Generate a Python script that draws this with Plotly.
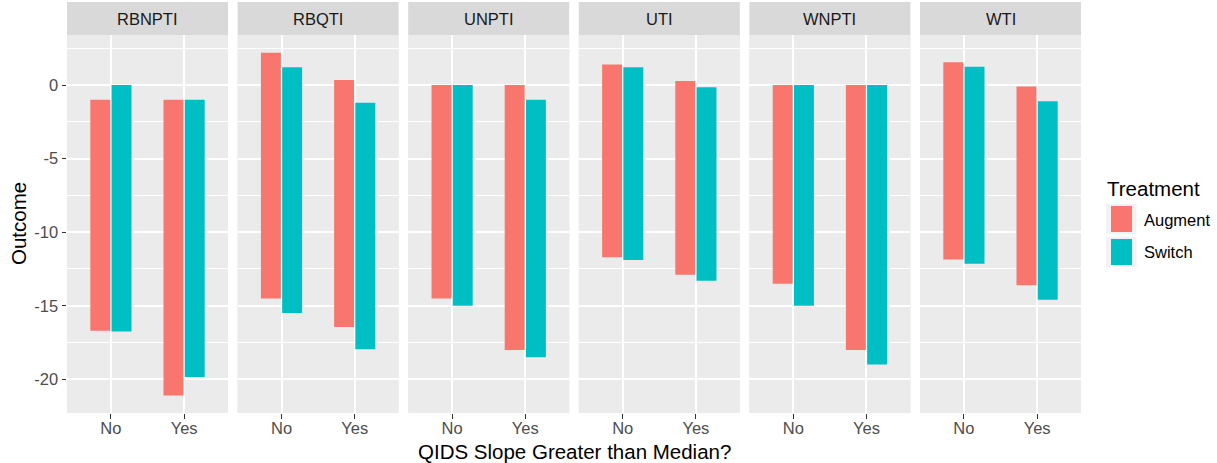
import plotly.graph_objects as go

# ---------------- data ----------------
panels = ["RBNPTI", "RBQTI", "UNPTI", "UTI", "WNPTI", "WTI"]
slope_groups = ["No", "Yes"]
treatments = ["Augment", "Switch"]

# per panel: [No, Yes]
augment_top = [[-1.0, -1.0], [2.2, 0.35], [0.0, 0.0], [1.4, 0.27], [0.0, 0.0], [1.55, -0.1]]
augment_bottom = [[-16.7, -21.1], [-14.5, -16.45], [-14.5, -18.0], [-11.7, -12.9], [-13.5, -18.0], [-11.85, -13.6]]
switch_top = [[0.0, -1.0], [1.2, -1.2], [0.0, -1.0], [1.2, -0.15], [0.0, 0.0], [1.25, -1.1]]
switch_bottom = [[-16.75, -19.85], [-15.5, -17.95], [-15.0, -18.5], [-11.9, -13.3], [-15.0, -19.0], [-12.15, -14.6]]

y_ticks = [-20, -15, -10, -5, 0]
y_tick_labels = ["-20", "-15", "-10", "-5", "0"]

colors = {"Augment": "#F8766D", "Switch": "#00BFC4"}

# ---------------- layout geometry ----------------
W, H = 1217, 463
ML, MR, MT, MB = 67, 136, 35, 50
PW = W - ML - MR
PH = H - MT - MB
FONT = "Liberation Sans, Arial, Helvetica, sans-serif"


def xp(px):
    return (px - ML) / PW


def yp(py):
    return (H - MB - py) / PH


panel_w = 161
step = (PW - panel_w) / 5.0

fig = go.Figure()
shapes = []
annotations = []

tops = {"Augment": augment_top, "Switch": switch_top}
bottoms = {"Augment": augment_bottom, "Switch": switch_bottom}

for i, name in enumerate(panels):
    ax = "" if i == 0 else str(i + 1)
    for t in treatments:
        lo = bottoms[t][i]
        hi = tops[t][i]
        fig.add_trace(go.Bar(
            x=slope_groups,
            y=[h - l for h, l in zip(hi, lo)],
            base=lo,
            name=t,
            offsetgroup=t,
            marker=dict(color=colors[t], line=dict(width=0)),
            showlegend=False,
            xaxis="x" + ax,
            yaxis="y" + ax,
        ))
    x0 = ML + i * step
    x1 = x0 + panel_w
    dom = [max(0.0, xp(x0)), min(1.0, xp(x1))]
    fig.update_layout(**{
        "xaxis" + ax: dict(
            domain=dom, anchor="y" + ax, type="category",
            range=[-0.6, 1.6], showgrid=True, gridcolor="white", gridwidth=1.6,
            ticks="outside", ticklen=4.5, tickwidth=1.4, tickcolor="#333333",
            ticklabelstandoff=-4,
            tickfont=dict(family=FONT, size=16.5, color="#4D4D4D"),
            zeroline=False, showline=False, fixedrange=True,
        ),
        "yaxis" + ax: dict(
            domain=[0, 1], anchor="x" + ax,
            range=[-22.29, 3.4],
            tickvals=y_ticks, ticktext=y_tick_labels,
            showticklabels=(i == 0),
            ticks="outside" if i == 0 else "",
            ticklen=4.5, tickwidth=1.4, tickcolor="#333333",
            tickfont=dict(family=FONT, size=16.5, color="#4D4D4D"),
            showgrid=True, gridcolor="white", gridwidth=1.6,
            minor=dict(dtick=2.5, tick0=0, showgrid=True, gridcolor="white", gridwidth=0.8, ticks=""),
            zeroline=False, showline=False, fixedrange=True,
        ),
    })
    # panel background
    shapes.append(dict(type="rect", xref="paper", yref="paper", x0=dom[0], x1=dom[1],
                       y0=0, y1=1, fillcolor="#EBEBEB", line=dict(width=0), layer="below"))
    # strip
    shapes.append(dict(type="rect", xref="paper", yref="paper", x0=dom[0], x1=dom[1],
                       y0=yp(35), y1=yp(2), fillcolor="#D9D9D9", line=dict(width=0)))
    annotations.append(dict(text=name, xref="paper", yref="paper", x=(dom[0] + dom[1]) / 2,
                            y=yp(19), xanchor="center", yanchor="middle", showarrow=False,
                            font=dict(family=FONT, size=16.5, color="#1A1A1A")))

# axis titles
annotations.append(dict(text="QIDS Slope Greater than Median?", xref="paper", yref="paper",
                        x=xp(574), y=yp(451), xanchor="center", yanchor="middle", showarrow=False,
                        font=dict(family=FONT, size=20.5, color="black")))
annotations.append(dict(text="Outcome", xref="paper", yref="paper", textangle=-90,
                        x=xp(18), y=yp(224), xanchor="center", yanchor="middle", showarrow=False,
                        font=dict(family=FONT, size=20.5, color="black")))

# legend (drawn manually, ggplot style)
annotations.append(dict(text="Treatment", xref="paper", yref="paper", x=xp(1105), y=yp(188),
                        xanchor="left", yanchor="middle", showarrow=False,
                        font=dict(family=FONT, size=20.5, color="black")))
key_tops = [204, 237]
for t, ky in zip(treatments, key_tops):
    shapes.append(dict(type="rect", xref="paper", yref="paper", x0=xp(1106), x1=xp(1136.5),
                       y0=yp(ky + 30), y1=yp(ky), fillcolor="#F2F2F2", line=dict(width=0)))
    shapes.append(dict(type="rect", xref="paper", yref="paper", x0=xp(1111), x1=xp(1132),
                       y0=yp(ky + 28), y1=yp(ky + 2), fillcolor=colors[t], line=dict(width=0)))
    annotations.append(dict(text=t, xref="paper", yref="paper", x=xp(1142), y=yp(ky + 15.5),
                            xanchor="left", yanchor="middle", showarrow=False,
                            font=dict(family=FONT, size=16.5, color="black")))

fig.update_layout(
    width=W, height=H,
    margin=dict(l=ML, r=MR, t=MT, b=MB, pad=0),
    paper_bgcolor="white", plot_bgcolor="#EBEBEB",
    barmode="group", bargap=0.42, bargroupgap=0.06,
    shapes=shapes, annotations=annotations,
    showlegend=False,
    font=dict(family=FONT),
)

fig.write_html(
    "out.html",
    config={"displayModeBar": False},
    post_script="document.body.style.margin='0';document.body.style.overflow='hidden';",
)
